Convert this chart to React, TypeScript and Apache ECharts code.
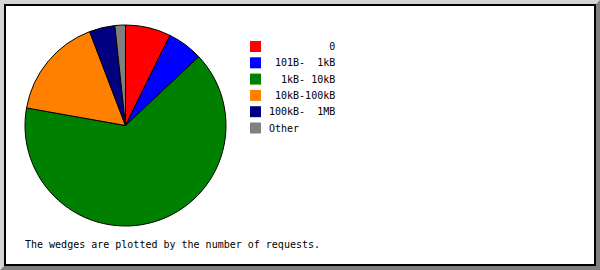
import React, { useEffect, useRef } from "react";
import * as echarts from "echarts";

// Request-size buckets and their share of requests
const categories = ["0", "101B-  1kB", "1kB- 10kB", "10kB-100kB", "100kB-  1MB", "Other"];
const requestShares = [7.3, 5.7, 64.8, 16.4, 4.1, 1.7];
const wedgeColors = ["#ff0000", "#0000ff", "#008000", "#ff8000", "#000080", "#808080"];
const footnote = "The wedges are plotted by the number of requests.";

const MONO = "'DejaVu Sans Mono', 'Liberation Mono', monospace";

export default function App() {
  const ref = useRef<HTMLDivElement>(null);

  useEffect(() => {
    document.body.style.margin = "0";
    if (!ref.current) return;
    const chart = echarts.init(ref.current, undefined, { renderer: "svg" });

    const W = 600;
    const H = 270;

    chart.setOption({
      animation: false,
      backgroundColor: "#ffffff",
      graphic: [
        // bevelled frame: light upper-left edge, dark lower-right edge
        {
          type: "polygon",
          z: 0,
          shape: { points: [[0, 0], [W, 0], [W - 4, 4], [4, 4], [4, H - 4], [0, H]] },
          style: { fill: "#d4d4d4" },
          silent: true,
        },
        {
          type: "polygon",
          z: 0,
          shape: { points: [[W, 0], [W, H], [0, H], [4, H - 4], [W - 4, H - 4], [W - 4, 4]] },
          style: { fill: "#808080" },
          silent: true,
        },
        {
          type: "rect",
          z: 0,
          shape: { x: 5, y: 5, width: W - 10, height: H - 10 },
          style: { fill: "#ffffff", stroke: "#000000", lineWidth: 2 },
          silent: true,
        },
        {
          type: "text",
          z: 10,
          x: 25,
          y: 244,
          style: {
            text: footnote,
            font: `10px ${MONO}`,
            fill: "#000000",
            verticalAlign: "middle",
            align: "left",
          },
          silent: true,
        },
      ],
      legend: {
        orient: "vertical",
        left: 250,
        top: 41,
        padding: 0,
        itemWidth: 11,
        itemHeight: 11,
        itemGap: 5.3,
        icon: "rect",
        selectedMode: false,
        itemStyle: { borderWidth: 0 },
        data: categories,
        formatter: (name: string) => (name === "Other" ? name : name.padStart(11, " ")),
        textStyle: {
          fontFamily: MONO,
          fontSize: 10,
          lineHeight: 11,
          color: "#000000",
          padding: [0, 0, 0, 3],
        },
      },
      series: [
        {
          type: "pie",
          center: [125.5, 125.5],
          radius: 100.5,
          startAngle: 90,
          clockwise: true,
          label: { show: false },
          labelLine: { show: false },
          emphasis: { disabled: true },
          itemStyle: { borderColor: "#000000", borderWidth: 1 },
          data: categories.map((name, i) => ({
            name,
            value: requestShares[i],
            itemStyle: { color: wedgeColors[i] },
          })),
        },
      ],
    });

    return () => chart.dispose();
  }, []);

  return <div ref={ref} style={{ width: 600, height: 270 }} />;
}
